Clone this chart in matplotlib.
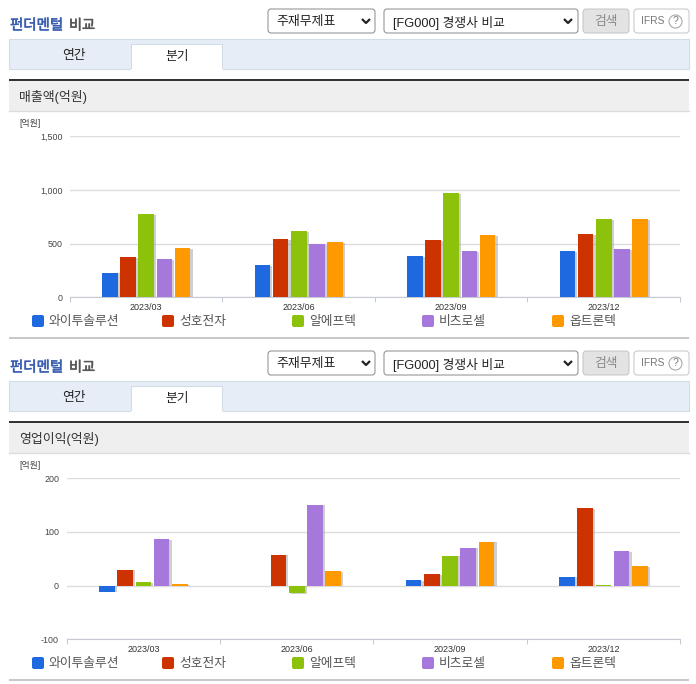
#!/usr/bin/env python3
import numpy as np
import matplotlib
matplotlib.use('Agg')
import matplotlib.pyplot as plt
import matplotlib.patheffects as pe
from matplotlib.patches import Rectangle, FancyBboxPatch, Circle

plt.rcParams['font.family'] = ['Liberation Sans', 'Noto Sans CJK KR', 'DejaVu Sans']

# Data
quarters = ['2023/03', '2023/06', '2023/09', '2023/12']
companies = ['와이투솔루션', '성호전자', '알에프텍', '비츠로셀', '옵트론텍']
colors = ['#1f69e0', '#cc3300', '#8cc20c', '#a678dc', '#ff9900']

sales_blue = [230, 301, 385, 432]
sales_red = [376, 544, 534, 590]
sales_green = [780, 621, 973, 730]
sales_purple = [357, 494, 432, 450]
sales_orange = [460, 516, 581, 730]

profit_blue = [-11, 0, 10, 17]
profit_red = [30, 58, 21, 144]
profit_green = [6, -14, 56, 1]
profit_purple = [86, 151, 71, 64]
profit_orange = [3, 27, 82, 36]

sales_ticks = [0, 500, 1000, 1500]
profit_ticks = [-100, 0, 100, 200]

W, H = 696, 684
PANEL_GAP = 342

fig = plt.figure(figsize=(W / 100, H / 100), dpi=100)
bg = fig.add_axes([0, 0, 1, 1])
bg.set_xlim(0, W)
bg.set_ylim(H, 0)
bg.axis('off')


# Rounded form control
def drawBox(x0, y0, x1, y1, face, edge):
    bg.add_patch(FancyBboxPatch((x0 + 2, y0 + 2), x1 - x0 - 4, y1 - y0 - 4,
                                boxstyle='round,pad=2,rounding_size=3',
                                fc=face, ec=edge, lw=0.7))


# Dropdown arrow
def drawChevron(x, y):
    bg.plot([x - 4, x, x + 4], [y - 2, y + 2, y - 2], color='#222222', lw=1.6,
            solid_capstyle='butt')


# Everything around the chart: title, controls, tabs, band, legend
def drawChrome(dy, label):
    # no medium weight installed, so thicken the regular one a little
    title1 = bg.text(10, 25.5 + dy, '펀더멘털', color='#3a5fb0', fontsize=10.4, va='center')
    title1.set_path_effects([pe.withStroke(linewidth=0.4, foreground='#3a5fb0')])
    title2 = bg.text(69, 25.5 + dy, '비교', color='#555555', fontsize=10.2, va='center')
    title2.set_path_effects([pe.withStroke(linewidth=0.4, foreground='#555555')])

    drawBox(268, 9 + dy, 375, 33 + dy, 'white', '#888888')
    bg.text(276, 22.5 + dy, '주재무제표', color='#222222', fontsize=9.3, va='center')
    drawChevron(366, 21 + dy)
    drawBox(384, 9 + dy, 578, 33 + dy, 'white', '#888888')
    bg.text(393, 22.5 + dy, '[FG000] 경쟁사 비교', color='#222222', fontsize=9.2,
            va='center')
    drawChevron(568, 21 + dy)
    drawBox(583, 9 + dy, 629, 33 + dy, '#e3e3e3', '#c4c4c4')
    bg.text(606, 21.5 + dy, '검색', color='#888888', fontsize=9.2, ha='center',
            va='center')
    drawBox(634, 9 + dy, 689, 33 + dy, 'white', '#c4c4c4')
    bg.text(641, 21 + dy, 'IFRS', color='#777777', fontsize=7.4, va='center')
    bg.add_patch(Circle((675.5, 21.5 + dy), 6.5, fc='white', ec='#aaaaaa', lw=0.8))
    bg.text(675.5, 21.5 + dy, '?', color='#777777', fontsize=7.5, ha='center',
            va='center')

    bg.add_patch(Rectangle((9, 39 + dy), 680, 30, fc='#e6edf7', ec='#d3dbe6', lw=0.8))
    bg.add_patch(Rectangle((131, 44 + dy), 91, 25.5, fc='white', ec='#d3dbe6', lw=0.8))
    bg.plot([131.5, 221.5], [69.5 + dy, 69.5 + dy], color='white', lw=1.5)
    bg.text(74, 56.5 + dy, '연간', color='#222222', fontsize=9.2, ha='center', va='center')
    bg.text(177, 57 + dy, '분기', color='#222222', fontsize=9.2, ha='center', va='center')

    bg.add_patch(Rectangle((9, 81 + dy), 680, 30, fc='#efefef', ec='none'))
    bg.plot([9, 689], [111 + dy, 111 + dy], color='#dddddd', lw=1)
    bg.add_patch(Rectangle((9, 79 + dy), 680, 2, fc='#333333', ec='none'))
    bg.text(19, 97.5 + dy, label, color='#333333', fontsize=9.3, va='center')
    bg.text(19, 124 + dy, '[억원]', color='#444444', fontsize=6.4, va='center')

    for i, (name, color) in enumerate(zip(companies, colors)):
        x = 32 + 130 * i
        bg.add_patch(FancyBboxPatch((x + 1, 316 + dy), 10, 10,
                                    boxstyle='round,pad=1,rounding_size=2',
                                    fc=color, ec='none'))
        bg.text(x + 17, 322.5 + dy, name, color='#555555', fontsize=9.2, va='center')
    bg.add_patch(Rectangle((9, 337 + dy), 680, 2, fc='#c8c8c8', ec='none'))


# One grouped bar chart placed by its pixel box
def drawChart(x0, x1, ytop, ybottom, series, ticks, labelY):
    ax = fig.add_axes([x0 / W, 1 - ybottom / H, (x1 - x0) / W, (ybottom - ytop) / H])
    ax.patch.set_alpha(0)
    ax.set_xlim(0, len(quarters))
    ax.set_ylim(ticks[0], ticks[-1])

    pos = np.arange(len(quarters)) + 0.5
    shadow = [pe.SimplePatchShadow(offset=(1.6, -0.6), shadow_rgbFace='#888888', alpha=0.4),
              pe.Normal()]
    for i, (values, color) in enumerate(zip(series, colors)):
        ax.bar(pos + (i - 2) * 0.119, values, width=0.102, color=color,
               path_effects=shadow, zorder=3)

    ax.set_yticks(ticks)
    ax.set_yticklabels([format(t, ',d') for t in ticks], fontsize=6.4, color='#444444')
    ax.set_xticks(pos)
    ax.set_xticklabels(quarters, fontsize=6.5, color='#333333')
    ax.set_xticks(np.arange(len(quarters) + 1), minor=True)
    ax.tick_params(axis='x', which='major', length=0, pad=labelY)
    ax.tick_params(axis='x', which='minor', length=3.5, color='#c5cad4', width=0.8,
                   direction='out')
    ax.tick_params(axis='y', length=0, pad=5.5)
    ax.grid(axis='y', color='#dcdcdc', lw=1, zorder=0)
    ax.set_axisbelow(True)
    for side in ['top', 'left', 'right']:
        ax.spines[side].set_visible(False)
    ax.spines['bottom'].set_color('#c5cad4')
    return ax


drawChrome(0, '매출액(억원)')
drawChrome(PANEL_GAP, '영업이익(억원)')

drawChart(70, 680, 136.5, 297.3,
          [sales_blue, sales_red, sales_green, sales_purple, sales_orange],
          sales_ticks, 4.2)
drawChart(66.7, 680, 478.3, 639.3,
          [profit_blue, profit_red, profit_green, profit_purple, profit_orange],
          profit_ticks, 4.2)

fig.savefig('out.png', dpi=100)
